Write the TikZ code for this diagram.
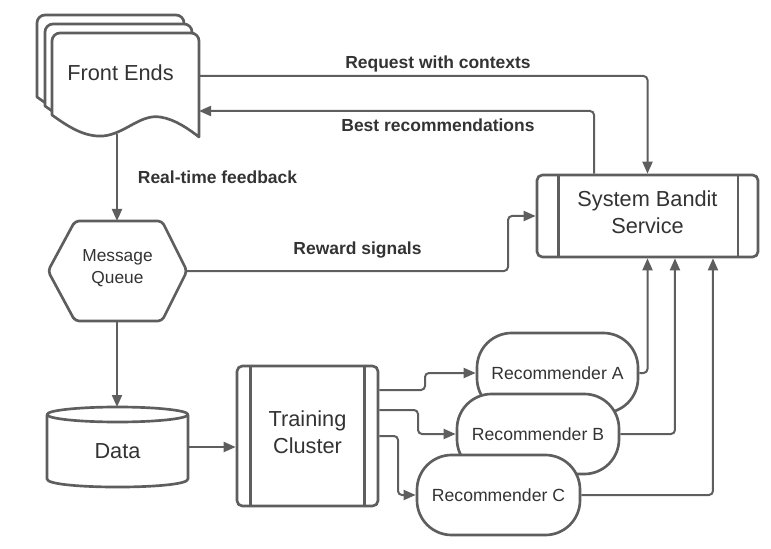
\documentclass[tikz,border=0pt]{standalone}
\usepackage{fontspec}
\setmainfont{Liberation Sans}
\usetikzlibrary{arrows.meta}
\definecolor{ln}{HTML}{5E5E5E}
\definecolor{tx}{HTML}{333333}
\begin{document}
\begin{tikzpicture}[x=0.75pt,y=-0.75pt,
  shp/.style={draw=ln, line width=2pt, fill=white, line join=round},
  con/.style={draw=ln, line width=1.5pt, rounded corners=3pt},
  arr/.style={con, -{Triangle[length=9pt,width=7.5pt]}},
  big/.style={text=tx, font=\fontsize{16.3}{20}\selectfont, align=center},
  mid/.style={text=tx, font=\fontsize{13.2}{16.5}\selectfont, align=center},
  lbl/.style={text=tx, font=\fontsize{13.1}{16}\selectfont\bfseries},
  rec/.style={shp, mid, minimum height=60pt, rounded corners=26pt},
  proc/.style={shp, rounded corners=4pt},
]
\useasboundingbox (0,0) rectangle (771,549);

% Front Ends (stacked documents)
\foreach \dx/\dy in {-15/-18,-7/-9,0/0}{
  \draw[shp, shift={(\dx,\dy)}] (52,115) [rounded corners=6pt] -- (52,33) -- (199,33) [sharp corners] -- (199,137)
    .. controls (190,130) and (175,119) .. (160,117)
    .. controls (140,114) and (125,134) .. (103,136)
    .. controls (85,137) and (70,128) .. (52,115) -- cycle;
}
\node[big] (fe) at (120.5,73) {Front Ends};
\coordinate (feB) at (117,134);
\coordinate (feR1) at (199,76);
\coordinate (feR2) at (199,111);

% Message Queue hexagon
\draw[shp, rounded corners=3pt] (48,271) -- (75,221) -- (162,221) -- (187,271) -- (162,321) -- (75,321) -- cycle;
\node[text=tx, font=\fontsize{13}{16.5}\selectfont, align=center] (mq) at (117.5,268) {Message\\Queue};
\coordinate (mqN) at (117,221);
\coordinate (mqS) at (117,321);
\coordinate (mqE) at (187,271);

% Data cylinder
\draw[shp] (47,414.5) -- (47,479) .. controls (47,489.7) and (188,489.7) .. (188,479) -- (188,414.5);
\draw[shp] (117.5,414.5) ellipse [x radius=52.875pt, y radius=5.625pt];
\node[big] (data) at (117.5,451) {Data};
\coordinate (dN) at (117,407);
\coordinate (dE) at (188,447);

% Training Cluster
\node[proc, minimum width=105.75pt, minimum height=105pt] (tc) at (307.5,436) {};
\draw[shp] ([xshift=11.25pt]tc.north west) -- ([xshift=11.25pt]tc.south west);
\draw[shp] ([xshift=-11.25pt]tc.north east) -- ([xshift=-11.25pt]tc.south east);
\node[big] (tcT) at (307.5,432.5) {Training\\Cluster};

% System Bandit Service
\node[proc, minimum width=165.75pt, minimum height=61.5pt] (sbs) at (647.5,216) {};
\draw[shp] ([xshift=17pt]sbs.north west) -- ([xshift=17pt]sbs.south west);
\draw[shp] ([xshift=-16pt]sbs.north east) -- ([xshift=-16pt]sbs.south east);
\node[big] (sbsT) at (647.5,212.5) {System Bandit\\Service};

% Recommenders
\node[rec, minimum width=120.75pt] (ra) at (557.5,373) {Recommender A};
\node[rec, minimum width=121.5pt] (rb) at (538,434) {Recommender B};
\node[rec, minimum width=122.25pt] (rc) at (498.5,495) {Recommender C};

% Connectors
\draw[arr] (feR1) -| (sbs.north);
\draw[arr] ([xshift=-40.1pt]sbs.north) |- (feR2);
\draw[arr] (feB) -- (mqN);
\draw[arr] (mqE) -- (508,271) |- (sbs.west);
\draw[arr] (mqS) -- (dN);
\draw[arr] (dE) -- (tc.west |- dE);

\draw[arr] (tc.east |- 0,390) -- (425,390) |- (ra.west);
\draw[arr] (tc.east |- 0,410) -- (418,410) |- (rb.west);
\draw[arr] (tc.east |- 0,436) -- (398,436) |- (rc.west);

\draw[arr] (ra.east) -| (sbs.south);
\draw[arr] (rb.east) -| ([xshift=20.6pt]sbs.south);
\draw[arr] (rc.east) -| ([xshift=49.1pt]sbs.south);

% Labels
\node[lbl] (l1) at (438,64) {Request with contexts};
\node[lbl] (l2) at (438,125) {Best recommendations};
\node[lbl] (l3) at (217.5,177) {Real-time feedback};
\node[lbl] (l4) at (357.5,250) {Reward signals};
\end{tikzpicture}
\end{document}
